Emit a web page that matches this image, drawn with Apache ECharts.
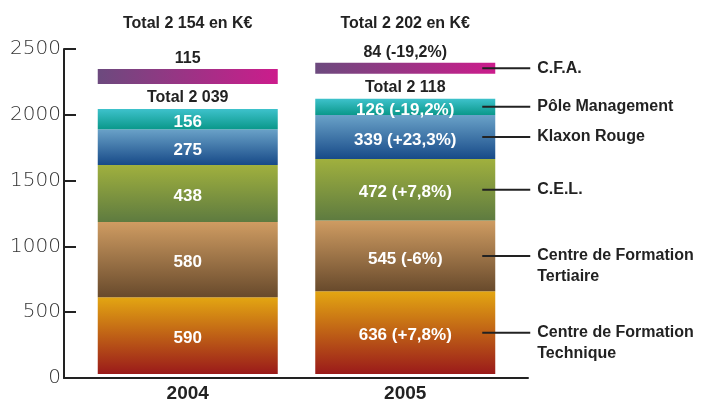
<!DOCTYPE html>
<html>
<head>
<meta charset="utf-8">
<script src="https://cdn.jsdelivr.net/npm/echarts@6/dist/echarts.min.js"></script>
<style>
  html, body { margin: 0; padding: 0; background: #fff; }
  #chart { width: 708px; height: 403px; }
</style>
</head>
<body>
<div id="chart"></div>
<script>
// data (K€)
const years = ['2004', '2005'];
const technique = [590, 636];
const tertiaire = [580, 545];
const cel = [438, 472];
const klaxon = [275, 339];
const management = [156, 126];
const cfa = [115, 84];

const techniqueChange = ['', '+7,8%'];
const tertiaireChange = ['', '-6%'];
const celChange = ['', '+7,8%'];
const klaxonChange = ['', '+23,3%'];
const managementChange = ['', '-19,2%'];
const cfaChange = ['', '-19,2%'];

const legendNames = ['Centre de Formation\nTechnique', 'Centre de Formation\nTertiaire', 'C.E.L.', 'Klaxon Rouge', 'Pôle Management', 'C.F.A.'];

const cfaGap = 192; // empty space between the main stack and the C.F.A. block

const FONT = '"Liberation Sans", Arial, sans-serif';
const fmt = n => String(n).replace(/\B(?=(\d{3})+(?!\d))/g, ' ');

const subtotal = years.map((_, i) => technique[i] + tertiaire[i] + cel[i] + klaxon[i] + management[i]);
const total = years.map((_, i) => subtotal[i] + cfa[i]);

const vgrad = (top, bottom) => new echarts.graphic.LinearGradient(0, 0, 0, 1, [
  { offset: 0, color: top }, { offset: 1, color: bottom }
]);

const segment = (name, data, changes, fill) => ({
  name: name,
  type: 'bar',
  stack: 'all',
  xAxisIndex: 0,
  yAxisIndex: 0,
  barWidth: 180,
  data: data,
  itemStyle: { color: fill },
  label: {
    show: true,
    position: 'inside',
    offset: [0, 3],
    color: '#fff',
    fontFamily: FONT,
    fontWeight: 'bold',
    fontSize: 17,
    formatter: p => changes[p.dataIndex] ? p.value + ' (' + changes[p.dataIndex] + ')' : String(p.value)
  }
});

// middle of each 2005 block, for the leader lines on the right
const series2005 = [technique, tertiaire, cel, klaxon, management];
const mids = [];
let acc = 0;
series2005.forEach(arr => { mids.push([1, acc + arr[1] / 2]); acc += arr[1]; });
mids.push([1, acc + cfaGap + cfa[1] / 2]);

const chart = echarts.init(document.getElementById('chart'));

chart.setOption({
  animation: false,
  grid: [
    { left: 79, right: 194, top: 49, bottom: 25 },
    { left: 64, right: 180, top: 49, bottom: 25 }
  ],
  xAxis: [{
    type: 'category',
    gridIndex: 0,
    data: years,
    axisLine: { show: false },
    axisTick: { show: false },
    axisLabel: { color: '#222', fontFamily: FONT, fontWeight: 'bold', fontSize: 19, margin: 10 }
  }, {
    type: 'category',
    gridIndex: 1,
    data: ['', ''],
    axisLine: { lineStyle: { color: '#222', width: 2 } },
    axisTick: { inside: true, length: 7, lineStyle: { color: '#222', width: 2 } },
    axisLabel: { show: false }
  }, {
    type: 'category',
    gridIndex: 0,
    position: 'top',
    data: years,
    axisLine: { show: false },
    axisTick: { show: false },
    axisLabel: {
      color: '#222', fontFamily: FONT, fontWeight: 'bold', fontSize: 16, margin: 17,
      formatter: (v, i) => 'Total ' + fmt(total[i]) + ' en K€'
    }
  }],
  yAxis: [{
    type: 'value',
    gridIndex: 0,
    min: 0, max: 2500, interval: 500,
    show: false
  }, {
    type: 'value',
    gridIndex: 1,
    min: 0, max: 2500, interval: 500,
    splitLine: { show: false },
    axisLine: { show: true, lineStyle: { color: '#222', width: 2 } },
    axisTick: { show: true, inside: true, length: 12, lineStyle: { color: '#222', width: 2 } },
    axisLabel: {
      color: '#333', fontFamily: '"DejaVu Sans", sans-serif', fontWeight: 200, fontSize: 20, margin: 3,
      formatter: v => String(v)
    }
  }],
  series: [
    segment('Centre de Formation Technique', technique, techniqueChange, vgrad('#e3a612', '#9a1a1a')),
    segment('Centre de Formation Tertiaire', tertiaire, tertiaireChange, vgrad('#cf9c62', '#684a2c')),
    segment('C.E.L.', cel, celChange, vgrad('#a0b03e', '#5e7b40')),
    segment('Klaxon Rouge', klaxon, klaxonChange, vgrad('#6aa2c8', '#174a88')),
    segment('Pôle Management', management, managementChange, vgrad('#3ec2cc', '#0a988a')),
    {
      name: 'gap',
      type: 'bar',
      stack: 'all',
      barWidth: 180,
      data: years.map(() => cfaGap),
      itemStyle: { color: 'rgba(0,0,0,0)' },
      label: {
        show: true,
        position: 'insideBottom',
        distance: 3,
        color: '#222',
        fontFamily: FONT,
        fontWeight: 'bold',
        fontSize: 16,
        formatter: p => 'Total ' + fmt(subtotal[p.dataIndex])
      }
    },
    {
      name: 'C.F.A.',
      type: 'bar',
      stack: 'all',
      barWidth: 180,
      data: cfa,
      itemStyle: {
        color: new echarts.graphic.LinearGradient(0, 0, 1, 0, [
          { offset: 0, color: '#6c4a7e' }, { offset: 1, color: '#cc1c8c' }
        ])
      },
      label: {
        show: true,
        position: 'top',
        distance: 2,
        color: '#222',
        fontFamily: FONT,
        fontWeight: 'bold',
        fontSize: 16,
        formatter: p => cfaChange[p.dataIndex] ? p.value + ' (' + cfaChange[p.dataIndex] + ')' : String(p.value)
      }
    },
    {
      name: 'legend',
      type: 'custom',
      xAxisIndex: 0,
      yAxisIndex: 0,
      z: 5,
      data: mids,
      encode: { x: 0, y: 1 },
      renderItem: (params, api) => {
        const p = api.coord([api.value(0), api.value(1)]);
        return {
          type: 'group',
          children: [{
            type: 'line',
            shape: { x1: p[0] + 77, y1: p[1], x2: p[0] + 125, y2: p[1] },
            style: { stroke: '#222', lineWidth: 2 }
          }, {
            type: 'text',
            style: {
              text: legendNames[params.dataIndex],
              x: p[0] + 132,
              y: p[1] - 10.5,
              fill: '#222',
              fontFamily: FONT,
              fontWeight: 'bold',
              fontSize: 16,
              lineHeight: 21,
              verticalAlign: 'top'
            }
          }]
        };
      }
    }
  ]
});
</script>
</body>
</html>
